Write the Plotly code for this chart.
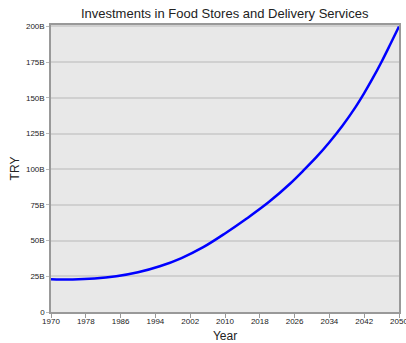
import plotly.graph_objects as go

years = [1970, 1975, 1980, 1985, 1990, 1995, 2000, 2005, 2010, 2015, 2020, 2025,
         2028, 2031, 2034, 2037, 2040, 2042, 2044, 2046, 2048, 2050]
investment_billion = [23.0, 22.8, 23.4, 25.0, 27.8, 32.0, 37.8, 45.4, 55.0, 65.5, 76.8, 90.0,
                      99.0, 108.4, 118.9, 130.45, 143.5, 153.3, 163.9, 175.3, 187.5, 200.0]
x_ticks = [1970, 1978, 1986, 1994, 2002, 2010, 2018, 2026, 2034, 2042, 2050]
y_tick_vals = [0, 25e9, 50e9, 75e9, 100e9, 125e9, 150e9, 175e9, 200e9]
y_tick_text = ["0", "25B", "50B", "75B", "100B", "125B", "150B", "175B", "200B"]

values = [v * 1e9 for v in investment_billion]

fig = go.Figure()
fig.add_trace(go.Scatter(
    x=years, y=values, mode="lines",
    line=dict(color="#0000ff", width=2.5, shape="spline", smoothing=1.0),
    showlegend=False,
))

fig.update_layout(
    width=406, height=343,
    margin=dict(l=51, r=7, t=25, b=31, autoexpand=False),
    paper_bgcolor="white",
    plot_bgcolor="#e8e8e8",
    font=dict(family="Liberation Sans, Arial, sans-serif", color="#222"),
    title=dict(text="Investments in Food Stores and Delivery Services",
               font=dict(size=13, color="#222"),
               x=0.5535, xanchor="center", y=0.96, yanchor="middle"),
)
fig.update_xaxes(
    range=[1970, 2050], tickvals=x_ticks,
    ticktext=[str(t) for t in x_ticks],
    tickfont=dict(size=8), ticks="outside", ticklen=4, tickcolor="#999",
    ticklabeloverflow="allow", ticklabelstandoff=-3,
    showgrid=False, zeroline=False, automargin=False,
    showline=True, linecolor="#999", linewidth=1.5, mirror=True,
    title=dict(text="Year", font=dict(size=12), standoff=9),
)
fig.update_yaxes(
    range=[0, 201e9], tickvals=y_tick_vals, ticktext=y_tick_text,
    tickfont=dict(size=8), ticks="outside", ticklen=3, tickcolor="#bbb",
    showgrid=True, gridcolor="#d0d0d0", gridwidth=1.5, zeroline=False, automargin=False,
    showline=True, linecolor="#999", linewidth=1.5, mirror=True,
    title=dict(text="TRY", font=dict(size=12), standoff=4),
)

fig.write_html("out.html", config={"displayModeBar": False},
               post_script="document.body.style.margin='0px';")
